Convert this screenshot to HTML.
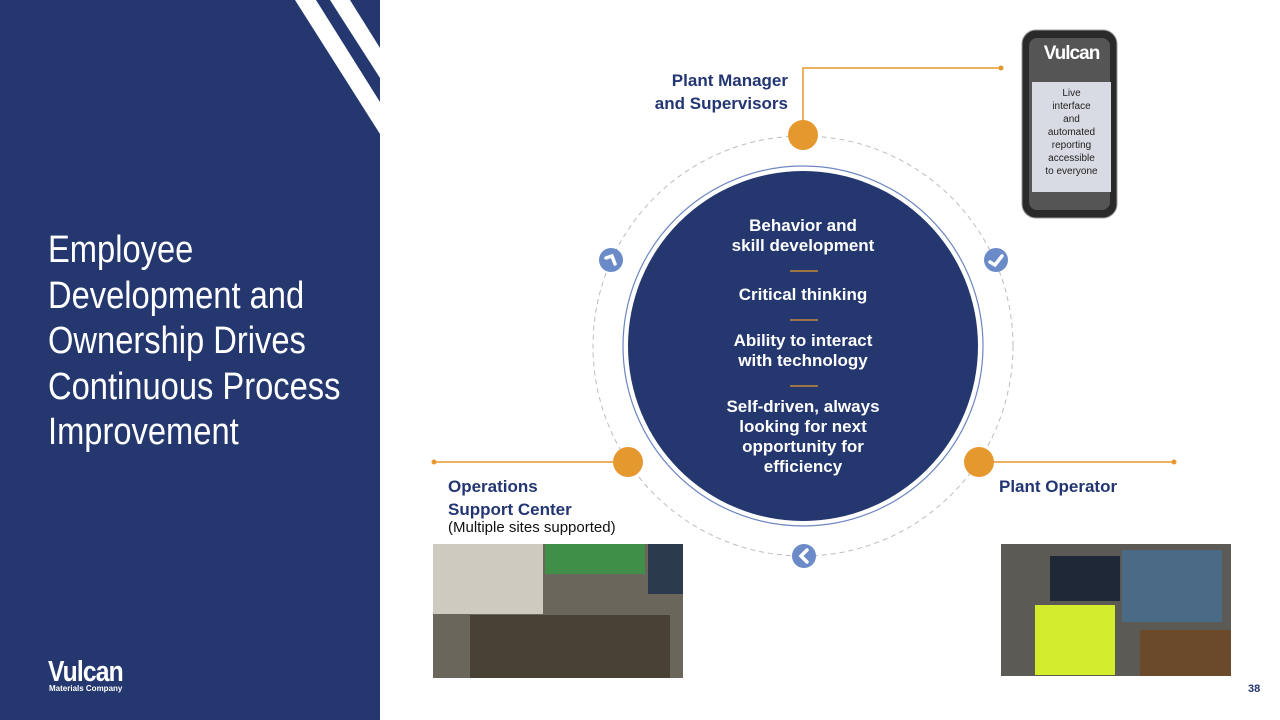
<!DOCTYPE html>
<html><head><meta charset="utf-8"><style>
body{margin:0;width:1280px;height:720px;position:relative;overflow:hidden;background:#fff;font-family:"Liberation Sans",sans-serif}
.a{position:absolute}
.lbl{color:#233673;font-weight:bold;font-size:17px;line-height:23px}
</style></head><body>
<div class="a" style="left:0;top:0;width:380px;height:720px;background:#24376f"></div>
<svg class="a" style="left:0;top:0" width="1280" height="720">
<polygon points="295,0 316,0 380,102 380,134" fill="#fff"/>
<polygon points="330,0 350,0 380,48 380,78" fill="#fff"/>
<circle cx="803" cy="346" r="210" fill="none" stroke="#b8bcc6" stroke-width="1" stroke-dasharray="5,4"/>
<circle cx="803" cy="346" r="180" fill="none" stroke="#6d86c2" stroke-width="1.2"/>
<circle cx="803" cy="346" r="175" fill="#24376f"/>
<g stroke="#e5982e" stroke-width="1.2"><line x1="790" y1="271" x2="818" y2="271"/><line x1="790" y1="320" x2="818" y2="320"/><line x1="790" y1="386" x2="818" y2="386"/></g>
<g stroke="#e5982e" stroke-width="1.5" fill="none">
<polyline points="803,135 803,68 1001,68"/>
<line x1="434" y1="462" x2="628" y2="462"/>
<line x1="980" y1="462" x2="1174" y2="462"/>
</g>
<g fill="#e5982e"><circle cx="1001" cy="68" r="2.5"/><circle cx="434" cy="462" r="2.5"/><circle cx="1174" cy="462" r="2.5"/>
<circle cx="803" cy="135" r="15"/><circle cx="628" cy="462" r="15"/><circle cx="979" cy="462" r="15"/></g>
<g fill="#6a8ac8"><circle cx="611" cy="260" r="12"/><circle cx="996" cy="260" r="12"/><circle cx="804" cy="556" r="12"/></g>
<g stroke="#fff" stroke-width="3.5" fill="none" stroke-linecap="round"><polyline points="606,258 612,256 615,264"/><polyline points="990,262 995,265 1002,256"/><polyline points="807,550 801,556 807,562"/></g>
<rect x="1022" y="30" width="95" height="188" rx="14" fill="#2a2a2a" stroke="#999"/>
<rect x="1029" y="38" width="81" height="172" rx="8" fill="#555"/>
<rect x="1032" y="82" width="79" height="110" fill="#d8dbe3"/>
<rect x="433" y="544" width="250" height="134" fill="#6b665c"/>
<rect x="433" y="544" width="110" height="70" fill="#cfcac0"/>
<rect x="545" y="544" width="100" height="30" fill="#3f8f48"/>
<rect x="648" y="544" width="35" height="50" fill="#2b3a4d"/>
<rect x="470" y="615" width="200" height="63" fill="#4a4136"/>
<rect x="1001" y="544" width="230" height="132" fill="#5c5a55"/>
<rect x="1050" y="556" width="70" height="45" fill="#1f2836"/>
<rect x="1122" y="550" width="100" height="72" fill="#4a6a86"/>
<rect x="1035" y="605" width="80" height="70" fill="#d4ec2e"/>
<rect x="1140" y="630" width="91" height="46" fill="#6b4a2c"/>
</svg>
<div class="a" style="left:48px;top:228px;color:#fff;font-size:38px;line-height:45.5px;transform:scaleX(0.86);transform-origin:0 0;white-space:nowrap">Employee<br>Development and<br>Ownership Drives<br>Continuous Process<br>Improvement</div>
<div class="a" style="left:48px;top:660px;color:#fff;font-weight:bold;font-size:29px;line-height:24px;letter-spacing:-1px;transform:scaleX(0.85);transform-origin:0 0">Vulcan</div>
<div class="a" style="left:49px;top:684px;color:#fff;font-weight:bold;font-size:8px">Materials Company</div>
<div class="a lbl" style="left:600px;top:69px;width:188px;text-align:right">Plant Manager<br>and Supervisors</div>
<div class="a lbl" style="left:448px;top:475px">Operations<br>Support Center</div>
<div class="a" style="left:448px;top:519px;font-size:15px;color:#111">(Multiple sites supported)</div>
<div class="a lbl" style="left:999px;top:475px">Plant Operator</div>
<div class="a" style="left:653px;top:216px;width:300px;text-align:center;color:#fff;font-weight:bold;font-size:17px;line-height:20px">
<div>Behavior and<br>skill development</div>
<div style="margin-top:29px">Critical thinking</div>
<div style="margin-top:26px">Ability to interact<br>with technology</div>
<div style="margin-top:26px">Self-driven, always<br>looking for next<br>opportunity for<br>efficiency</div></div>
<div class="a" style="left:1032px;top:44px;width:79px;text-align:center;color:#fff;font-weight:bold;font-size:19px;line-height:20px;letter-spacing:-1px">Vulcan</div>
<div class="a" style="left:1032px;top:87px;width:79px;text-align:center;color:#222;font-size:10px;line-height:13px">Live<br>interface<br>and<br>automated<br>reporting<br>accessible<br>to everyone</div>
<div class="a" style="left:1248px;top:683px;color:#233673;font-weight:bold;font-size:11px">38</div>
</body></html>
